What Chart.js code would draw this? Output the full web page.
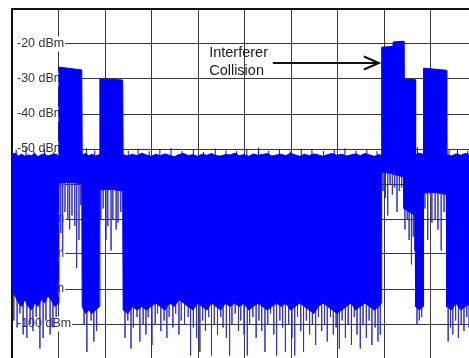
<!DOCTYPE html>
<html>
<head>
<meta charset="utf-8">
<script src="https://cdn.jsdelivr.net/npm/chart.js@4.4.1/dist/chart.umd.min.js"></script>
<style>
  html, body { margin: 0; padding: 0; background: #fff; overflow: hidden; }
  #wrap { width: 480px; height: 360px; }
</style>
</head>
<body>
<div id="wrap"><canvas id="spectrum" width="480" height="360"></canvas></div>
<script>
// sweep position in screen divisions (0 = left edge, 10 = right edge)
const sweepX = [
  0, 0.07, 0.14, 0.21, 0.28, 0.35, 0.42, 0.49, 0.56, 0.63, 0.7, 0.77, 0.84, 0.92, 1.0,
  1.01, 1.25, 1.5,
  1.51, 1.58, 1.65, 1.72, 1.8, 1.88,
  1.89, 2.14, 2.38,
  2.39, 2.49, 2.59, 2.69, 2.79, 2.89, 2.99, 3.09, 3.19, 3.29,
  3.39, 3.49, 3.59, 3.69, 3.79, 3.89, 3.99, 4.09, 4.19, 4.29,
  4.39, 4.49, 4.59, 4.69, 4.79, 4.89, 4.99, 5.09, 5.19, 5.29,
  5.39, 5.49, 5.59, 5.69, 5.79, 5.89, 5.99, 6.09, 6.19, 6.29,
  6.39, 6.49, 6.59, 6.69, 6.79, 6.89, 6.99, 7.09, 7.19, 7.29,
  7.39, 7.49, 7.59, 7.69, 7.79, 7.89, 7.94,
  7.95, 8.19,
  8.2, 8.42,
  8.43, 8.55, 8.67,
  8.68, 8.76, 8.84,
  8.85, 9.1, 9.34,
  9.35, 9.45, 9.55, 9.65, 9.75, 9.87, 10
];

// upper edge of the trace (dBm)
const peakDbm = [
  -51.6, -51.2, -52.0, -51.5, -52.1, -51.7, -51.9, -51.3, -52.2, -51.6, -51.5, -52.0, -51.7, -51.4, -51.9,
  -26.6, -27.0, -27.4,
  -51.7, -51.3, -51.9, -51.5, -52.0, -51.6,
  -30.0, -30.1, -30.3,
  -51.6, -52.0, -51.5, -51.9, -51.2, -51.7, -52.1, -51.5, -51.9, -51.4,
  -51.8, -52.2, -51.6, -51.3, -51.9, -51.6, -52.1, -51.5, -51.8, -51.3,
  -51.9, -52.0, -51.6, -51.7, -51.2, -51.9, -51.6, -52.1, -51.4, -51.8,
  -51.6, -51.3, -52.0, -51.7, -51.5, -51.9, -51.2, -51.7, -52.1, -51.5,
  -51.9, -51.4, -51.7, -52.1, -51.6, -51.3, -51.8, -51.5, -52.0, -51.7,
  -51.4, -51.9, -51.3, -51.7, -52.1, -51.6, -51.8,
  -20.9, -20.7,
  -19.4, -19.2,
  -30.1, -30.1, -30.2,
  -51.7, -51.2, -51.5,
  -26.9, -27.2, -27.5,
  -51.6, -52.0, -51.4, -51.8, -51.3, -51.7, -51.9
];

// lower edge of the solid part of the trace (dBm)
const floorDbm = [
  -91, -92, -94, -95, -93, -95, -96, -94, -95, -93, -94, -92, -93, -95, -94,
  -59.7, -59.5, -59.9,
  -95, -97, -96, -97, -96, -95,
  -61.7, -61.5, -62.0,
  -96, -97, -95, -96, -95, -96, -95, -94, -95, -96,
  -94, -95, -93, -94, -95, -96, -94, -95, -96, -94,
  -95, -96, -94, -95, -94, -95, -94, -96, -95, -94,
  -95, -96, -95, -94, -95, -94, -96, -95, -94, -95,
  -96, -97, -95, -94, -95, -96, -97, -96, -95, -94,
  -96, -95, -94, -95, -96, -95, -94,
  -56.6, -57.0,
  -57.2, -58.0,
  -67, -68, -69,
  -95, -96, -95,
  -62.6, -62.4, -63.0,
  -95, -96, -94, -96, -95, -94, -95
];

// single-sample dips below the solid trace
const dipX = [
  0.04, 0.11, 0.17, 0.24, 0.32, 0.39, 0.45, 0.52, 0.6, 0.67, 0.73, 0.82, 0.88, 0.95,
  1.05, 1.09, 1.14, 1.2, 1.24, 1.29, 1.35, 1.39, 1.44, 1.48,
  1.55, 1.61, 1.7, 1.76, 1.82,
  1.91, 1.96, 2.02, 2.06, 2.13, 2.17, 2.24, 2.28, 2.34,
  2.43, 2.49, 2.56, 2.61, 2.69, 2.75, 2.82, 2.88, 2.93, 3.01,
  3.08, 3.13, 3.2, 3.27, 3.33, 3.38, 3.46, 3.52, 3.59, 3.64,
  3.71, 3.79, 3.84, 3.9, 3.97, 4.04, 4.1, 4.16, 4.23, 4.29,
  4.35, 4.42, 4.49, 4.54, 4.61, 4.68, 4.73, 4.8, 4.87, 4.92,
  4.99, 5.06, 5.11, 5.18, 5.25, 5.31, 5.37, 5.44, 5.5, 5.56,
  5.63, 5.69, 5.76, 5.82, 5.88, 5.95, 6.02, 6.08, 6.14, 6.21,
  6.27, 6.33, 6.4, 6.46, 6.53, 6.59, 6.66, 6.72, 6.78, 6.85,
  6.91, 6.97, 7.04, 7.1, 7.17, 7.23, 7.3, 7.36, 7.42, 7.49,
  7.55, 7.62, 7.68, 7.74, 7.81, 7.87, 7.92,
  7.98, 8.03, 8.08, 8.13, 8.18, 8.23, 8.28, 8.33, 8.38,
  8.45, 8.5, 8.54, 8.59, 8.63, 8.66,
  8.71, 8.76, 8.81,
  8.88, 8.94, 9.03, 9.1, 9.16, 9.23, 9.29,
  9.38, 9.43, 9.48, 9.54, 9.6, 9.66, 9.72, 9.78, 9.83, 9.9
];
const dipDbm = [
  -99, -101, -97, -103, -104, -100, -102, -98, -107, -104, -99, -103, -101, -98,
  -74, -79, -68, -70, -73, -69, -72, -84, -76, -66,
  -100, -108, -99, -105, -102,
  -70, -67, -76, -72, -79, -70, -73, -71, -68,
  -104, -99, -107, -101, -98, -105, -100, -103, -98, -106,
  -100, -97, -102, -99, -104, -98, -101, -97, -103, -99,
  -100, -98, -109, -101, -104, -108, -99, -102, -98, -109,
  -100, -103, -98, -101, -104, -109, -100, -97, -102, -99,
  -103, -109, -100, -98, -104, -99, -102, -108, -100, -97,
  -103, -109, -99, -101, -108, -100, -104, -109, -98, -102,
  -108, -99, -103, -100, -106, -98, -102, -100, -105, -98,
  -103, -101, -107, -99, -104, -100, -106, -98, -103, -107,
  -100, -104, -99, -106, -101, -105, -103,
  -62, -64, -69, -60, -63, -61, -68, -62, -61,
  -73, -70, -76, -83, -75, -79,
  -100, -99, -98,
  -67, -76, -71, -70, -73, -79, -68,
  -105, -101, -103, -99, -104, -100, -102, -98, -101, -104
];

// small spurs poking above the noise
const spurX = [
  0.09, 0.3, 0.47, 0.7, 0.9, 1.6, 1.78, 2.5, 2.71, 2.95,
  3.18, 3.42, 3.66, 3.9, 4.12, 4.37, 4.6, 4.83, 5.05, 5.3,
  5.52, 5.75, 5.98, 6.22, 6.45, 6.7, 6.93, 7.16, 7.4, 7.63,
  7.85, 8.72, 9.4, 9.58, 9.8
];
const spurDbm = [
  -50.2, -49.6, -50.6, -50.0, -50.8, -49.8, -50.4, -50.5, -49.9, -50.7,
  -50.1, -49.7, -50.6, -50.3, -50.8, -49.9, -50.4, -50.6, -50.0, -49.6,
  -50.5, -50.2, -50.7, -49.9, -50.3, -50.6, -50.1, -49.8, -50.5, -50.2,
  -50.6, -49.5, -50.3, -50.0, -50.6
];

const dbmTicks = [-20, -30, -40, -50, -60, -70, -80, -90, -100];
const noteLines = ['Interferer', 'Collision'];

const DIP_TOP = -55;
const SPUR_BASE = -53;
const BLUE = '#0000ff';

const trace = sweepX.map((v, i) => ({ x: v, y: peakDbm[i] }));
const floor = sweepX.map((v, i) => ({ x: v, y: floorDbm[i] }));

function strokes(xs, ys, base) {
    const out = [];
    xs.forEach((v, i) => {
        out.push({ x: v, y: base }, { x: v, y: ys[i] }, { x: v, y: null });
    });
    return out;
}

// text + arrow pointing at the collision
const notePlugin = {
    id: 'note',
    afterDatasetsDraw(chart) {
        const { ctx, scales: { x, y } } = chart;
        ctx.save();
        ctx.fillStyle = '#1a1a1a';
        ctx.font = '14.5px "Liberation Sans", Arial, sans-serif';
        ctx.textBaseline = 'alphabetic';
        const tx = x.getPixelForValue(4.24);
        ctx.fillText(noteLines[0], tx, y.getPixelForValue(-23.7));
        ctx.fillText(noteLines[1], tx, y.getPixelForValue(-28.9));

        const ay = Math.round(y.getPixelForValue(-25.4));
        const x0 = x.getPixelForValue(5.61);
        const x1 = x.getPixelForValue(7.89);
        ctx.strokeStyle = '#111';
        ctx.lineWidth = 2;
        ctx.beginPath();
        ctx.moveTo(x0, ay);
        ctx.lineTo(x1, ay);
        ctx.stroke();
        ctx.beginPath();
        ctx.moveTo(x1 - 15, ay - 6.5);
        ctx.lineTo(x1, ay);
        ctx.lineTo(x1 - 15, ay + 6.5);
        ctx.stroke();
        ctx.restore();
    }
};

new Chart(document.getElementById('spectrum'), {
    type: 'line',
    data: {
        datasets: [
            { data: trace, borderColor: BLUE, backgroundColor: BLUE, borderWidth: 1, fill: 1, pointRadius: 0, order: 0 },
            { data: floor, borderColor: BLUE, borderWidth: 1, fill: false, pointRadius: 0, order: 1 },
            { data: strokes(dipX, dipDbm, DIP_TOP), borderColor: 'rgba(40, 40, 200, 0.7)', borderWidth: 1, fill: false, pointRadius: 0, spanGaps: false, order: 2 },
            { data: strokes(spurX, spurDbm, SPUR_BASE), borderColor: BLUE, borderWidth: 1, fill: false, pointRadius: 0, spanGaps: false, order: 3 }
        ]
    },
    options: {
        responsive: false,
        animation: false,
        events: [],
        layout: { padding: { left: 2, top: 9, right: 3, bottom: 1 } },
        plugins: { legend: { display: false }, tooltip: { enabled: false } },
        scales: {
            x: {
                type: 'linear',
                position: 'top',
                min: 0,
                max: 10,
                ticks: { display: false, stepSize: 1 },
                grid: { color: '#3a3a3a', lineWidth: 1, drawTicks: false },
                border: { display: true, color: '#111', width: 2 }
            },
            y: {
                min: -110,
                max: -10,
                afterBuildTicks: (s) => { s.ticks = dbmTicks.map(v => ({ value: v })); },
                // labels sit inside the plot, so no extra room above/below
                afterFit: (s) => { s.paddingTop = 0; s.paddingBottom = 0; },
                grid: { color: '#3a3a3a', lineWidth: 1, drawTicks: false },
                border: { display: true, color: '#111', width: 2 },
                ticks: {
                    mirror: true,
                    padding: 5,
                    color: '#333',
                    font: { family: '"Liberation Sans", Arial, sans-serif', size: 12.5 },
                    callback: (v) => v + ' dBm',
                    showLabelBackdrop: true,
                    backdropColor: '#fff',
                    backdropPadding: { left: 4, right: 1, top: 0, bottom: 0 }
                }
            }
        }
    },
    plugins: [notePlugin]
});
</script>
</body>
</html>
